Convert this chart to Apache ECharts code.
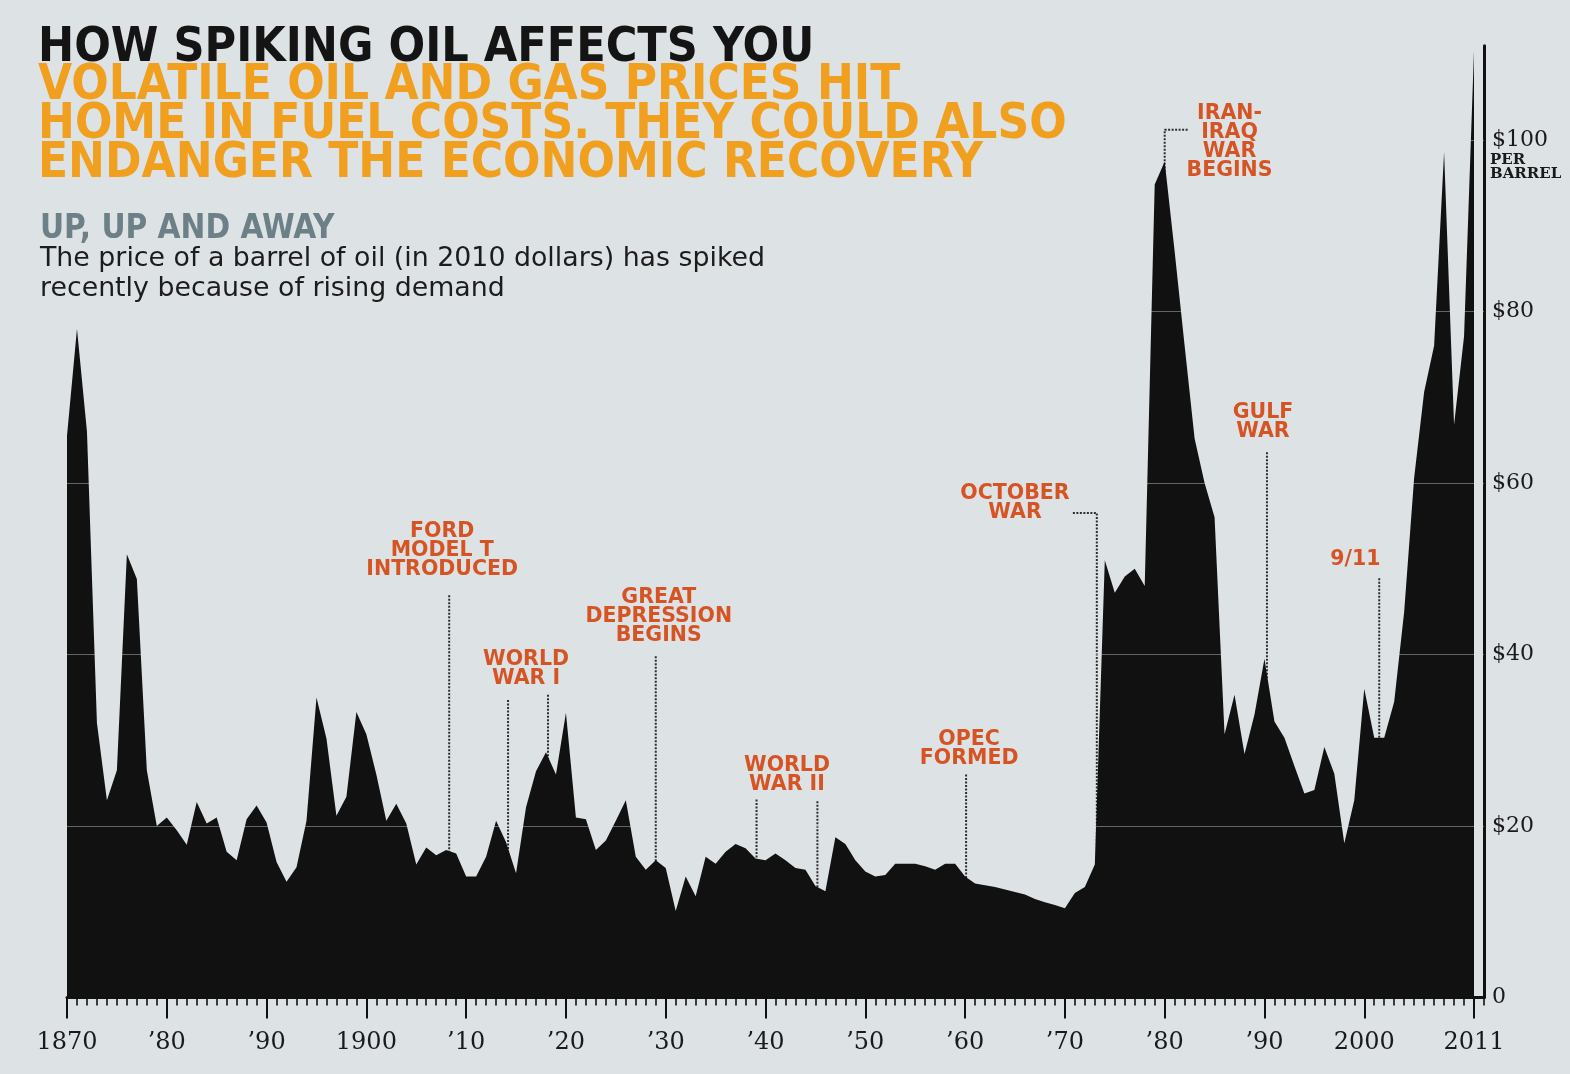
<!DOCTYPE html>
<html>
<head>
<meta charset="utf-8">
<script src="https://cdn.jsdelivr.net/npm/echarts@6/dist/echarts.min.js"></script>
<style>
html,body{margin:0;padding:0;background:#dde2e5;}
#chart{width:1570px;height:1074px;}
</style>
</head>
<body>
<div id="chart"></div>
<script>
// ---------------- DATA ----------------
const FIRST_YEAR = 1870;
// Price of a barrel of oil, in 2010 dollars, one value per year 1870..2011
const prices = [
  65.5, 78, 66, 32, 23, 26.5, 51.7, 48.8, 26.5, 20,          // 1870-1879
  21, 19.5, 17.8, 22.8, 20.3, 21, 17, 16, 20.8, 22.4,         // 1880-1889
  20.4, 15.8, 13.5, 15.2, 20.6, 35, 30.2, 21.2, 23.4, 33.3,   // 1890-1899
  30.7, 26, 20.6, 22.6, 20.3, 15.5, 17.5, 16.6, 17.2, 16.8,   // 1900-1909
  14.1, 14.1, 16.4, 20.6, 18.1, 14.5, 22.2, 26.4, 28.6, 26,   // 1910-1919
  33.2, 21, 20.8, 17.2, 18.3, 20.6, 23, 16.4, 14.9, 16,       // 1920-1929
  15.1, 10.1, 14.1, 11.8, 16.4, 15.6, 17, 17.9, 17.4, 16.2,   // 1930-1939
  16, 16.8, 16, 15.1, 14.9, 13, 12.4, 18.7, 17.9, 16,         // 1940-1949
  14.7, 14.1, 14.3, 15.6, 15.6, 15.6, 15.3, 14.9, 15.6, 15.6, // 1950-1959
  14.1, 13.3, 13.1, 12.9, 12.6, 12.3, 12, 11.5, 11.1, 10.8,   // 1960-1969
  10.4, 12.2, 12.9, 15.5, 51, 47.2, 49.1, 50, 48, 94.8,       // 1970-1979
  97.5, 87, 76, 65.2, 60, 56, 30.7, 35.3, 28.4, 33,           // 1980-1989
  39.5, 32.2, 30.3, 27, 23.8, 24.2, 29.2, 26.1, 18, 23,       // 1990-1999
  36, 30.3, 30.3, 34.5, 45, 60.6, 70.6, 76, 98.6, 66.8,       // 2000-2009
  77.1, 110.5                                                 // 2010-2011
];
const years = prices.map((_, i) => FIRST_YEAR + i);

// X-axis tick labels
const xTickYears  = [1870, 1880, 1890, 1900, 1910, 1920, 1930, 1940, 1950, 1960, 1970, 1980, 1990, 2000, 2011];
const xTickLabels = ['1870', '\u201980', '\u201990', '1900', '\u201910', '\u201920', '\u201930', '\u201940', '\u201950', '\u201960', '\u201970', '\u201980', '\u201990', '2000', '2011'];
// Y-axis tick labels
const yTickValues = [0, 20, 40, 60, 80, 100];
const yTickLabels = ['0', '$20', '$40', '$60', '$80', '$100'];

// Events annotated on the chart
const eventNames = ['FORD\nMODEL T\nINTRODUCED', 'WORLD\nWAR I', 'GREAT\nDEPRESSION\nBEGINS', 'WORLD\nWAR II',
                    'OPEC\nFORMED', 'OCTOBER\nWAR', 'IRAN-\nIRAQ\nWAR\nBEGINS', 'GULF\nWAR', '9/11'];
const eventYears = [[1908.3], [1914.2, 1918.2], [1929.0], [1939.1, 1945.2], [1960.1], [1973.2], [1980.0], [1990.25], [2001.5]];

// ---------------- LAYOUT (positions of the annotation texts / leaders, in axis units) ----------------
const labelAnchors = [[1907.6, 52.1], [1916.0, 38.3], [1929.3, 44.4], [1942.15, 25.9], [1960.4, 29.0],
                      [1965.0, 57.6], [1986.5, 99.8], [1989.85, 67.1], [1999.1, 51.1]];
const leaderTops   = [[46.9], [34.7, 35.3], [39.8], [23.1, 22.9], [26.0], [56.5], [101.2], [63.6], [48.9]];
// horizontal elbow of leader (x where elbow ends), null when straight
const leaderElbows = [null, null, null, null, null, 1970.8, 1982.3, null, null];

const ORANGE = '#d65424';
const INK = '#111111';
const BG = '#dde2e5';
const SERIF = '"DejaVu Serif", "Liberation Serif", serif';
const NARROW = '"Liberation Sans Narrow", "DejaVu Sans Condensed", "Roboto", sans-serif';

const chart = echarts.init(document.getElementById('chart'), null, {renderer: 'canvas'});

const series = [];
series.push({
  name: 'price', type: 'line', z: 3,
  data: years.map((y, i) => [y, prices[i]]),
  symbol: 'none', silent: true,
  lineStyle: {width: 0},
  areaStyle: {color: INK, opacity: 1},
  markLine: {
    silent: true, symbol: 'none', animation: false,
    label: {show: false},
    lineStyle: {color: BG, opacity: 0.4, width: 1, type: 'solid'},
    data: yTickValues.filter(v => v > 0).map(v => ({yAxis: v}))
  }
});

// leader lines (behind the area)
eventYears.forEach((ys, k) => {
  ys.forEach((yr, j) => {
    const pts = [];
    if (leaderElbows[k] !== null) pts.push([leaderElbows[k], leaderTops[k][j]]);
    pts.push([yr, leaderTops[k][j]]);
    pts.push([yr, 0]);
    series.push({
      type: 'line', z: 1, silent: true, symbol: 'none', animation: false,
      data: pts,
      lineStyle: {color: '#2e2e2e', width: 2, type: [2, 1.5]}
    });
  });
});

// annotation texts
series.push({
  type: 'scatter', z: 5, silent: true, symbolSize: 0, animation: false,
  itemStyle: {opacity: 1},
  data: labelAnchors.map((a, k) => ({value: a, name: eventNames[k]})),
  label: {
    show: true, position: 'inside', opacity: 1,
    formatter: p => p.name,
    color: ORANGE, fontFamily: '"DejaVu Sans", "Liberation Sans", sans-serif',
    fontWeight: 'bold', fontSize: 20.5, lineHeight: 19, align: 'center'
  }
});

const option = {
  backgroundColor: BG,
  animation: false,
  title: [
    {text: 'HOW SPIKING OIL AFFECTS YOU', left: 38, top: 25, padding: 0,
     textStyle: {fontFamily: NARROW, fontWeight: 'bold', fontSize: 48, lineHeight: 48, color: '#141414'}},
    {text: 'VOLATILE OIL AND GAS PRICES HIT\nHOME IN FUEL COSTS. THEY COULD ALSO\nENDANGER THE ECONOMIC RECOVERY',
     left: 38, top: 67, padding: 0,
     textStyle: {fontFamily: NARROW, fontWeight: 'bold', fontSize: 49, lineHeight: 39, color: '#f0a01e'}},
    {text: 'UP, UP AND AWAY', left: 40, top: 213, padding: 0,
     textStyle: {fontFamily: NARROW, fontWeight: 'bold', fontSize: 33, lineHeight: 33, color: '#6d7f87'}},
    {text: 'The price of a barrel of oil (in 2010 dollars) has spiked\nrecently because of rising demand',
     left: 40, top: 244, padding: 0,
     textStyle: {fontFamily: '"DejaVu Sans", "Liberation Sans", sans-serif', fontWeight: 'normal', fontSize: 26.8, lineHeight: 30, color: '#1c1c1c'}}
  ],
  grid: {left: 67, right: 86, top: 45.7, bottom: 76.5, containLabel: false},
  xAxis: [
    {
      type: 'value', min: 1870, max: 2012, position: 'bottom',
      axisLine: {show: true, onZero: false, lineStyle: {color: INK, width: 3}},
      axisTick: {show: true, customValues: xTickYears, length: 21, lineStyle: {color: INK, width: 2}},
      axisLabel: {show: true, customValues: xTickYears, margin: 33,
        formatter: v => xTickLabels[xTickYears.indexOf(v)] || '',
        fontFamily: SERIF, fontSize: 24, color: '#1a1a1a'},
      splitLine: {show: false}
    },
    {
      type: 'value', min: 1870, max: 2012, interval: 1, position: 'bottom',
      axisLine: {show: false},
      axisTick: {show: true, length: 8, lineStyle: {color: INK, width: 1.6}},
      axisLabel: {show: false},
      splitLine: {show: false}
    }
  ],
  yAxis: {
    type: 'value', min: 0, max: 111, position: 'right',
    name: 'PER\nBARREL', nameLocation: 'end', nameGap: -121.8,
    nameTextStyle: {fontFamily: SERIF, fontWeight: 'bold', fontSize: 15, lineHeight: 14,
                    color: '#1a1a1a', align: 'left', verticalAlign: 'middle', padding: [0, 0, 0, 6]},
    axisLine: {show: true, lineStyle: {color: INK, width: 3}},
    axisTick: {show: false},
    axisLabel: {show: true, customValues: yTickValues, margin: 8,
      formatter: v => yTickLabels[yTickValues.indexOf(v)] || '',
      fontFamily: SERIF, fontSize: 22, color: '#1a1a1a'},
    splitLine: {show: false}
  },
  series: series
};
chart.setOption(option);
</script>
</body>
</html>
